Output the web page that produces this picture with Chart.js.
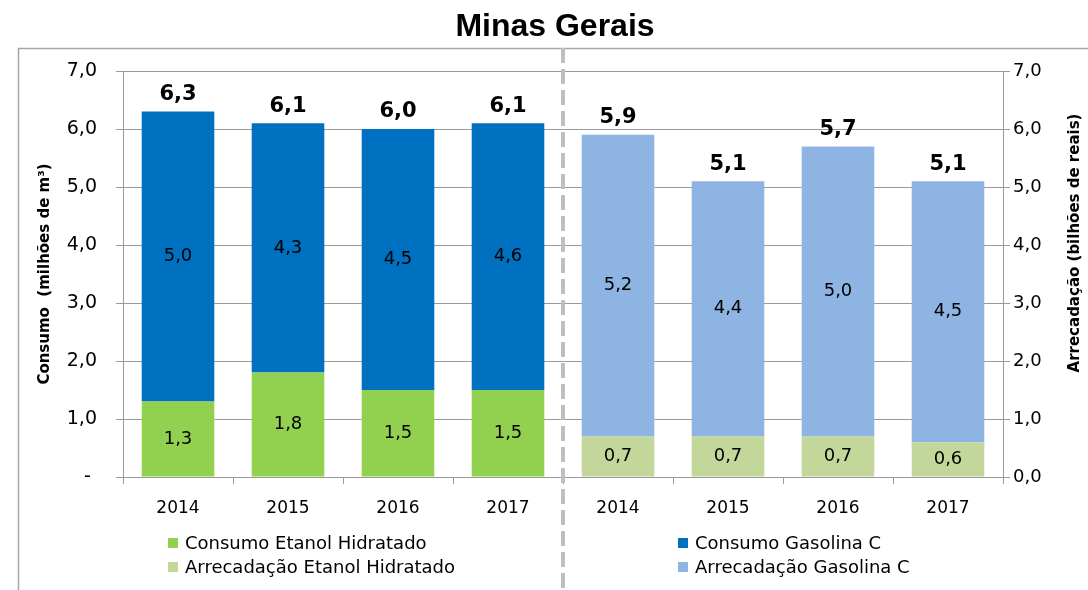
<!DOCTYPE html>
<html>
<head>
<meta charset="utf-8">
<script src="https://cdn.jsdelivr.net/npm/chart.js@4"></script>
<style>
  body { margin: 0; background: #fff; }
  #wrap { position: relative; width: 1088px; height: 590px; overflow: hidden; }
  #chart { position: absolute; left: 0; top: 0; }
  .title { position: absolute; left: 0; top: 7px; width: 1110px; text-align: center;
    font: bold 32px "Liberation Sans", Arial, sans-serif; color: #000; }
  .leg { position: absolute; font: 18px "DejaVu Sans", Verdana, sans-serif; color: #000;
    line-height: 22px; white-space: nowrap; }
  .leg span { display: inline-block; width: 10px; height: 10px; margin-right: 7px; vertical-align: 1px; }
</style>
</head>
<body>
<div id="wrap">
  <canvas id="chart" width="1088" height="590"></canvas>
  <div class="title">Minas Gerais</div>
  <div class="leg" style="left:168px; top:532px"><span style="background:#92d050"></span>Consumo Etanol Hidratado</div>
  <div class="leg" style="left:168px; top:556px"><span style="background:#c4d79b"></span>Arrecadação Etanol Hidratado</div>
  <div class="leg" style="left:678px; top:532px"><span style="background:#0070c0"></span>Consumo Gasolina C</div>
  <div class="leg" style="left:678px; top:556px"><span style="background:#8eb4e3"></span>Arrecadação Gasolina C</div>
</div>
<script>
// --- DATA ---
const categories = ['2014', '2015', '2016', '2017', '2014', '2015', '2016', '2017'];
const consumoEtanol = [1.3, 1.8, 1.5, 1.5];
const consumoGasolina = [5.0, 4.3, 4.5, 4.6];
const arrecEtanol = [0.7, 0.7, 0.7, 0.6];
const arrecGasolina = [5.2, 4.4, 5.0, 4.5];
const leftTicks = ['- ', '1,0', '2,0', '3,0', '4,0', '5,0', '6,0', '7,0'];
const rightTicks = ['0,0', '1,0', '2,0', '3,0', '4,0', '5,0', '6,0', '7,0'];

const empty = [null, null, null, null];
const fmt = v => v.toFixed(1).replace('.', ',');
const gray = '#9a9a9a';
const font = '"DejaVu Sans", Verdana, sans-serif';

// data labels, totals, separator, frame and axis titles
const extrasPlugin = {
    id: 'extras',
    beforeDraw(chart) {
        const ctx = chart.ctx;
        ctx.save();
        ctx.strokeStyle = '#a6a6a6';
        ctx.lineWidth = 1.5;
        ctx.strokeRect(18.5, 48.5, 1200, 700);
        ctx.restore();
    },
    afterDatasetsDraw(chart) {
        const ctx = chart.ctx;
        const x = chart.scales.x;
        ctx.save();

        // dashed separator between the two groups
        const sepX = (x.getPixelForValue(3) + x.getPixelForValue(4)) / 2;
        ctx.strokeStyle = '#bfbfbf';
        ctx.lineWidth = 4;
        ctx.setLineDash([15, 6]);
        ctx.beginPath();
        ctx.moveTo(sepX, 48);
        ctx.lineTo(sepX, 590);
        ctx.stroke();
        ctx.setLineDash([]);

        // values inside segments
        ctx.fillStyle = '#000';
        ctx.textAlign = 'center';
        ctx.textBaseline = 'middle';
        ctx.font = '18px ' + font;
        chart.data.datasets.forEach((ds, i) => {
            chart.getDatasetMeta(i).data.forEach((bar, j) => {
                const v = ds.data[j];
                if (v == null) return;
                ctx.fillText(fmt(v), bar.x, (bar.y + bar.base) / 2);
            });
        });

        // totals on top
        ctx.font = 'bold 21px ' + font;
        for (let j = 0; j < categories.length; j++) {
            const left = j < 4;
            const k = left ? j : j - 4;
            const total = left ? consumoEtanol[k] + consumoGasolina[k] : arrecEtanol[k] + arrecGasolina[k];
            const bar = chart.getDatasetMeta(left ? 1 : 3).data[j];
            ctx.fillText(fmt(total), bar.x, bar.y - 17);
        }

        // axis titles
        ctx.font = 'bold 15px ' + font;
        ctx.translate(45, 274);
        ctx.rotate(-Math.PI / 2);
        ctx.fillText('Consumo  (milhões de m³)', 0, 0);
        ctx.setTransform(1, 0, 0, 1, 0, 0);
        ctx.translate(1075, 243);
        ctx.rotate(-Math.PI / 2);
        ctx.fillText('Arrecadação (bilhões de reais)', 0, 0);
        ctx.restore();
    }
};

const ctx = document.getElementById('chart').getContext('2d');
new Chart(ctx, {
    type: 'bar',
    data: {
        labels: categories,
        datasets: [
            { label: 'Consumo Etanol Hidratado', data: consumoEtanol.concat(empty), backgroundColor: '#92d050', yAxisID: 'y', stack: 's' },
            { label: 'Consumo Gasolina C', data: consumoGasolina.concat(empty), backgroundColor: '#0070c0', yAxisID: 'y', stack: 's' },
            { label: 'Arrecadação Etanol Hidratado', data: empty.concat(arrecEtanol), backgroundColor: '#c4d79b', yAxisID: 'y1', stack: 's' },
            { label: 'Arrecadação Gasolina C', data: empty.concat(arrecGasolina), backgroundColor: '#8eb4e3', yAxisID: 'y1', stack: 's' }
        ]
    },
    options: {
        responsive: false,
        animation: false,
        layout: { padding: { top: 71, left: 0, right: 0, bottom: 0 } },
        datasets: { bar: { barPercentage: 0.66, categoryPercentage: 1 } },
        plugins: { legend: { display: false }, tooltip: { enabled: false } },
        scales: {
            x: {
                stacked: true,
                grid: { offset: true, drawOnChartArea: false, color: gray, tickLength: 7 },
                border: { color: gray },
                ticks: { color: '#000', font: { family: font, size: 17 }, padding: 14 },
                afterFit: s => { s.height = 113; }
            },
            y: {
                stacked: true, min: 0, max: 7,
                grid: { color: gray, tickLength: 7 },
                border: { color: gray },
                ticks: { stepSize: 1, color: '#000', font: { family: font, size: 19 }, padding: 19,
                    callback: (v, i) => leftTicks[i] },
                afterFit: s => { s.width = 123; }
            },
            y1: {
                stacked: true, min: 0, max: 7, position: 'right',
                grid: { drawOnChartArea: false, color: gray, tickLength: 7 },
                border: { color: gray },
                ticks: { stepSize: 1, color: '#000', font: { family: font, size: 18 }, padding: 3,
                    callback: (v, i) => rightTicks[i] },
                afterFit: s => { s.width = 85; }
            }
        }
    },
    plugins: [extrasPlugin]
});
</script>
</body>
</html>
